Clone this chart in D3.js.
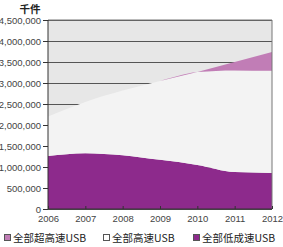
<!DOCTYPE html>
<html>
<head>
<meta charset="utf-8">
<script src="https://cdn.jsdelivr.net/npm/d3@7"></script>
<style>
  body { margin: 0; background: #fff; }
  svg { display: block; font-family: "Liberation Sans", "Noto Sans CJK SC", sans-serif; }
  .axis text { fill: #444; font-size: 9.5px; }
  .axis path, .axis line { stroke: #333; }
  .grid line { stroke: #555; stroke-width: 1; }
  .grid path { display: none; }
  .legend text { font-family: "Noto Sans CJK SC", sans-serif; font-size: 10.5px; fill: #222; }
</style>
</head>
<body>
<svg id="chart"></svg>
<script>
// data (thousand units)
var years = [2006, 2007, 2008, 2009, 2010, 2011, 2012];
var lowSpeed = [1260000, 1330000, 1280000, 1170000, 1050000, 880000, 860000];
var highSpeed = [940000, 1220000, 1540000, 1880000, 2210000, 2420000, 2430000];
var superSpeed = [0, 0, 0, 0, 0, 200000, 450000];
var yTicks = [0, 500000, 1000000, 1500000, 2000000, 2500000, 3000000, 3500000, 4000000, 4500000];
var seriesNames = ["全部超高速USB", "全部高速USB", "全部低成速USB"];

var WIDTH = 283,
    HEIGHT = 247;
var margin = { top: 20, right: 11, bottom: 38, left: 48 };
var w = WIDTH - margin.left - margin.right,
    h = HEIGHT - margin.top - margin.bottom;

var svg = d3.select("#chart")
    .attr("width", WIDTH)
    .attr("height", HEIGHT);

var rows = years.map(function(yr, i) {
  return { year: yr, low: lowSpeed[i], high: highSpeed[i], sup: superSpeed[i] };
});

var stack = d3.stack().keys(["low", "high", "sup"]);
var layers = stack(rows);

var x = d3.scaleLinear().domain([2006, 2012]).range([0, w]);
var y = d3.scaleLinear().domain([0, 4500000]).range([h, 0]);

var fills = { low: "#8d2a8c", high: "#f3f3f3", sup: "#c17db6" };

var g = svg.append("g")
    .attr("transform", "translate(" + margin.left + "," + margin.top + ")");

// plot background
g.append("rect")
    .attr("width", w)
    .attr("height", h)
    .attr("fill", "#e7e7e7");

// gridlines sit behind the areas
g.append("g")
    .attr("class", "grid")
    .call(d3.axisLeft(y).tickValues(yTicks).tickSize(-w).tickFormat(""));

var area = d3.area()
    .curve(d3.curveMonotoneX)
    .x(function(d) { return x(d.data.year); })
    .y0(function(d) { return y(d[0]); })
    .y1(function(d) { return y(d[1]); });

g.selectAll(".layer")
    .data(layers)
  .enter().append("path")
    .attr("class", "layer")
    .attr("d", area)
    .attr("fill", function(d) { return fills[d.key]; });

// frame: top and right
g.append("path")
    .attr("d", "M0,0H" + w + "V" + h)
    .attr("fill", "none")
    .attr("stroke", "#777");

g.append("g")
    .attr("class", "axis")
    .call(d3.axisLeft(y).tickValues(yTicks).tickSize(5).tickPadding(2)
      .tickFormat(d3.format(",")))
    .call(function(s) { s.select(".domain").attr("d", "M0," + h + "V0"); });

g.append("g")
    .attr("class", "axis")
    .attr("transform", "translate(0," + h + ")")
    .call(d3.axisBottom(x).tickValues(years).tickSize(-3).tickPadding(6)
      .tickFormat(d3.format("d")))
    .call(function(s) { s.select(".domain").attr("d", "M0,0H" + w); });

// unit label
svg.append("text")
    .attr("x", 30)
    .attr("y", 13)
    .attr("text-anchor", "middle")
    .style("font-family", "Noto Sans CJK SC, sans-serif")
    .style("font-size", "10.5px")
    .style("font-weight", "bold")
    .attr("fill", "#222")
    .text("千件");

// legend
var legendX = [4, 103, 193];
var legendFill = [fills.sup, "#ffffff", fills.low];
var legend = svg.append("g")
    .attr("class", "legend")
    .attr("transform", "translate(0,238)");

var item = legend.selectAll("g")
    .data(seriesNames)
  .enter().append("g")
    .attr("transform", function(d, i) { return "translate(" + legendX[i] + ",0)"; });

item.append("rect")
    .attr("x", 0.5)
    .attr("y", -3.5)
    .attr("width", 6)
    .attr("height", 6)
    .attr("fill", function(d, i) { return legendFill[i]; })
    .attr("stroke", "#555");

item.append("text")
    .attr("x", 9)
    .attr("y", 4)
    .text(function(d) { return d; });
</script>
</body>
</html>
